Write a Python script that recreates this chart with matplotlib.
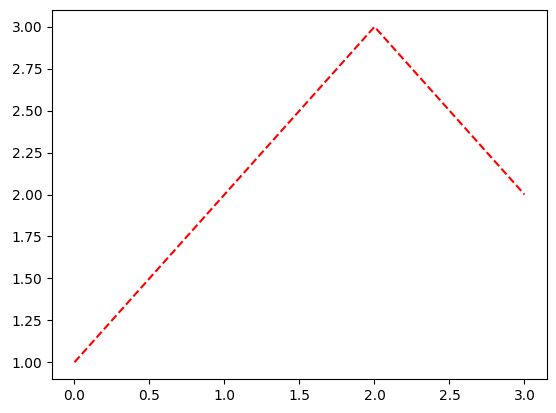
import matplotlib
matplotlib.use("Agg")
import matplotlib.pyplot as plt

xs = [0, 1, 2, 3]
ys = [1, 2, 3, 2]

fig = plt.figure(figsize=(5.56, 4.13), dpi=100)
ax = fig.add_axes([0.0935, 0.0823, 0.8903, 0.8935])
ax.plot(xs, ys, "r--")
fig.savefig("out.png", dpi=100)
